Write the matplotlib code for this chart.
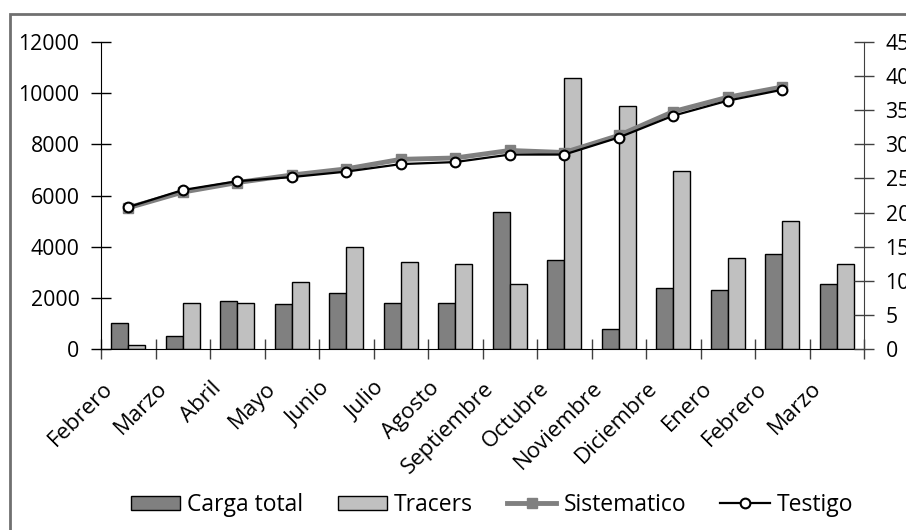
import numpy as np
import matplotlib.pyplot as plt
from matplotlib.patches import Rectangle
from matplotlib.transforms import ScaledTranslation

plt.rcParams['font.family'] = ['Open Sans', 'DejaVu Sans']

meses = ['Febrero', 'Marzo', 'Abril', 'Mayo', 'Junio', 'Julio', 'Agosto',
         'Septiembre', 'Octubre', 'Noviembre', 'Diciembre', 'Enero',
         'Febrero', 'Marzo']
carga_total = [1020, 510, 1880, 1770, 2200, 1800, 1800, 5360, 3480, 780,
               2380, 2310, 3710, 2540]
tracers = [150, 1800, 1780, 2620, 4000, 3400, 3320, 2530, 10600, 9500,
           6960, 3560, 5000, 3320]
sistematico = [20.7, 23.0, 24.4, 25.5, 26.4, 27.8, 28.0, 29.1, 28.8, 31.3,
               34.8, 36.9, 38.4]
testigo = [20.8, 23.3, 24.6, 25.2, 26.0, 27.1, 27.4, 28.5, 28.5, 31.0,
           34.2, 36.4, 38.0]

x = np.arange(len(meses))
w = 0.31

fig = plt.figure(figsize=(9.06, 5.30), dpi=100)
ax1 = fig.add_axes([101/906, 1 - 349/530, 763/906, 307/530])
ax2 = ax1.twinx()

ax1.bar(x - w/2, carga_total, w, color='#808080', edgecolor='black',
        linewidth=1, label='Carga total')
ax1.bar(x + w/2, tracers, w, color='#c0c0c0', edgecolor='black',
        linewidth=1, label='Tracers')

ax2.plot(x[:len(sistematico)], sistematico, color='#808080', lw=3.5,
         marker='s', ms=7, mfc='#808080', mec='#808080', label='Sistematico')
ax2.plot(x[:len(testigo)], testigo, color='black', lw=1.6,
         marker='o', ms=7, mfc='white', mec='black', mew=1.5, label='Testigo')

ax1.set_xlim(-0.5, len(meses) - 0.5)
ax1.set_ylim(0, 12000)
ax2.set_ylim(0, 45)
ax1.set_yticks(np.arange(0, 12001, 2000))
ax2.set_yticks(np.arange(0, 46, 5))

# ticks at category borders, names at centers
ax1.set_xticks(np.arange(-0.5, len(meses), 1))
ax1.set_xticklabels([])
ax1.set_xticks(x, minor=True)
ax1.set_xticklabels(meses, minor=True, rotation=45, ha='right', va='center',
                    rotation_mode='anchor', fontsize=16)
ax1.tick_params(axis='x', which='major', direction='inout', length=14,
                width=1, color='#404040')
ax1.tick_params(axis='x', which='minor', length=0, pad=26)
ax1.tick_params(axis='y', direction='inout', length=14, width=1,
                labelsize=15.3, pad=8.5)
ax2.tick_params(axis='y', direction='inout', length=14, width=1,
                labelsize=15.3, pad=8.5, color='#404040')

shift = ScaledTranslation(-19/100, 0, fig.dpi_scale_trans)
for lab in ax1.get_xticklabels(minor=True):
    lab.set_transform(lab.get_transform() + shift)

for a in (ax1, ax2):
    a.spines['top'].set_visible(False)
    a.patch.set_visible(False)
ax2.spines['left'].set_visible(False)
ax2.spines['bottom'].set_visible(False)
ax1.spines['right'].set_visible(False)
ax2.spines['right'].set_color('#404040')
ax1.set_zorder(ax2.get_zorder() - 1)

h1, l1 = ax1.get_legend_handles_labels()
h2, l2 = ax2.get_legend_handles_labels()
fig.legend(h1 + h2, l1 + l2, loc='center', bbox_to_anchor=(492/906, 1 - 505/530),
           ncol=4, frameon=False, fontsize=16.5, handlelength=2.15,
           handleheight=0.6, columnspacing=1.5, handletextpad=0.3,
           borderpad=0, borderaxespad=0)

# outer frame of the chart area
fig.patches.append(Rectangle((10/906, -0.1), 1.2, 1 - 14/530 + 0.1,
                             transform=fig.transFigure, fill=False,
                             edgecolor='#707070', linewidth=2))

fig.savefig('out.png', dpi=100)
